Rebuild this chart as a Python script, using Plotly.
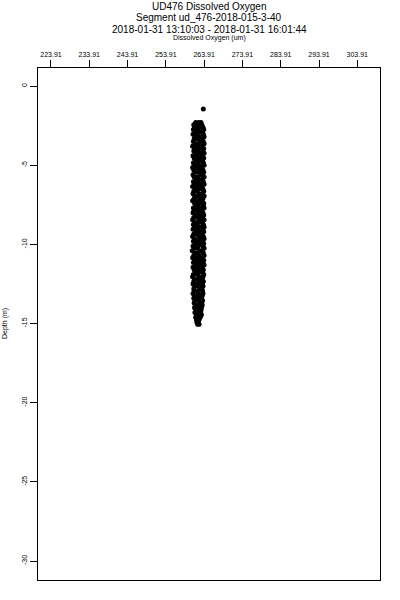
import plotly.graph_objects as go

# Depth levels (m) and dissolved oxygen readings (um)
depth_m = [
    -1.45,
    -2.30, -2.30, -2.30, -2.45, -2.45, -2.45, -2.60, -2.60, -2.60, -2.75, -2.75, -2.75,
    -2.90, -2.90, -2.90, -3.05, -3.05, -3.05, -3.20, -3.20, -3.20, -3.35, -3.35, -3.35,
    -3.50, -3.50, -3.50, -3.65, -3.65, -3.65, -3.80, -3.80, -3.80, -3.95, -3.95, -3.95,
    -4.10, -4.10, -4.10, -4.25, -4.25, -4.25, -4.40, -4.40, -4.40, -4.55, -4.55, -4.55,
    -4.70, -4.70, -4.70, -4.85, -4.85, -4.85, -5.00, -5.00, -5.00, -5.15, -5.15, -5.15,
    -5.30, -5.30, -5.30, -5.45, -5.45, -5.45, -5.60, -5.60, -5.60, -5.75, -5.75, -5.75,
    -5.90, -5.90, -5.90, -6.05, -6.05, -6.05, -6.20, -6.20, -6.20, -6.35, -6.35, -6.35,
    -6.50, -6.50, -6.50, -6.65, -6.65, -6.65, -6.80, -6.80, -6.80, -6.95, -6.95, -6.95,
    -7.10, -7.10, -7.10, -7.25, -7.25, -7.25, -7.40, -7.40, -7.40, -7.55, -7.55, -7.55,
    -7.70, -7.70, -7.70, -7.85, -7.85, -7.85, -8.00, -8.00, -8.00, -8.15, -8.15, -8.15,
    -8.30, -8.30, -8.30, -8.45, -8.45, -8.45, -8.60, -8.60, -8.60, -8.75, -8.75, -8.75,
    -8.90, -8.90, -8.90, -9.05, -9.05, -9.05, -9.20, -9.20, -9.20, -9.35, -9.35, -9.35,
    -9.50, -9.50, -9.50, -9.65, -9.65, -9.65, -9.80, -9.80, -9.80, -9.95, -9.95, -9.95,
    -10.10, -10.10, -10.10, -10.25, -10.25, -10.25, -10.40, -10.40, -10.40, -10.55, -10.55, -10.55,
    -10.70, -10.70, -10.70, -10.85, -10.85, -10.85, -11.00, -11.00, -11.00, -11.15, -11.15, -11.15,
    -11.30, -11.30, -11.30, -11.45, -11.45, -11.45, -11.60, -11.60, -11.60, -11.75, -11.75, -11.75,
    -11.90, -11.90, -11.90, -12.05, -12.05, -12.05, -12.20, -12.20, -12.20, -12.35, -12.35, -12.35,
    -12.50, -12.50, -12.50, -12.65, -12.65, -12.65, -12.80, -12.80, -12.80, -12.95, -12.95, -12.95,
    -13.10, -13.10, -13.10, -13.25, -13.25, -13.25, -13.40, -13.40, -13.40, -13.55, -13.55, -13.55,
    -13.70, -13.70, -13.70, -13.85, -13.85, -13.85, -14.00, -14.00, -14.00, -14.15, -14.15, -14.15,
    -14.30, -14.30, -14.30, -14.45, -14.45, -14.45, -14.60, -14.60, -14.60,
    -14.75, -14.75, -14.90, -14.90, -15.05, -15.05,
]
oxygen_um = [
    263.7,
    261.7, 262.5, 263.1, 261.2, 262.0, 263.3, 261.4, 262.7, 263.6, 261.1, 262.3, 263.8,
    261.8, 262.9, 263.5, 261.0, 262.1, 263.7, 261.5, 262.6, 263.9, 261.3, 262.2, 263.4,
    261.1, 262.8, 263.7, 261.6, 262.4, 263.9, 260.9, 262.0, 263.3, 261.4, 262.7, 263.8,
    261.2, 262.3, 263.6, 261.7, 262.9, 263.9, 261.0, 262.1, 263.4, 261.3, 262.5, 263.8,
    261.6, 262.8, 263.5, 261.1, 262.2, 263.7, 261.4, 262.6, 263.9, 260.9, 262.0, 263.2,
    261.2, 262.7, 263.6, 261.5, 262.4, 263.8, 261.0, 262.9, 263.5, 261.3, 262.1, 263.9,
    261.7, 262.6, 263.4, 261.1, 262.3, 263.7, 261.4, 262.8, 263.9, 260.9, 262.2, 263.3,
    261.6, 262.5, 263.6, 261.2, 262.0, 263.8, 261.0, 262.7, 263.5, 261.5, 262.4, 263.9,
    261.3, 262.9, 263.6, 260.9, 262.1, 263.4, 261.4, 262.6, 263.8, 261.7, 262.3, 263.7,
    261.1, 262.8, 263.9, 261.3, 262.0, 263.3, 261.0, 262.5, 263.6, 261.6, 262.9, 263.8,
    261.2, 262.2, 263.5, 260.9, 262.7, 263.9, 261.5, 262.4, 263.4, 261.1, 262.1, 263.7,
    261.4, 262.8, 263.9, 261.0, 262.3, 263.6, 261.7, 262.6, 263.8, 261.2, 262.0, 263.3,
    260.9, 262.5, 263.7, 261.4, 262.9, 263.9, 261.1, 262.2, 263.5, 261.6, 262.7, 263.8,
    261.0, 262.4, 263.6, 261.3, 262.1, 263.9, 260.8, 262.8, 263.4, 261.5, 262.3, 263.7,
    261.2, 262.6, 263.9, 260.9, 262.0, 263.5, 261.4, 262.7, 263.8, 261.1, 262.4, 263.6,
    261.6, 262.9, 263.9, 261.0, 262.2, 263.3, 261.3, 262.5, 263.7, 261.7, 262.8, 263.5,
    261.1, 262.1, 263.8, 260.9, 262.6, 263.6, 261.4, 262.3, 263.4, 261.2, 262.7, 263.7,
    261.0, 262.0, 263.5, 261.5, 262.5, 263.6, 261.2, 262.8, 263.3, 261.3, 262.2, 263.5,
    261.0, 262.4, 263.6, 261.4, 262.7, 263.4, 261.2, 262.1, 263.2, 261.5, 262.5, 263.5,
    261.3, 262.8, 263.3, 261.6, 262.3, 263.4, 261.4, 262.6, 263.2, 261.8, 262.4, 263.1,
    261.5, 262.2, 263.0, 261.9, 262.7, 263.2, 261.7, 262.4, 262.9,
    261.9, 262.6, 262.0, 262.4, 262.2, 262.6,
]

x_tick_values = [223.91, 233.91, 243.91, 253.91, 263.91, 273.91, 283.91, 293.91, 303.91]
y_tick_values = [0, -5, -10, -15, -20, -25, -30]

title_lines = [
    "UD476 Dissolved Oxygen",
    "Segment ud_476-2018-015-3-40",
    "2018-01-31 13:10:03 - 2018-01-31 16:01:44",
]
x_title = "Dissolved Oxygen (um)"
y_title = "Depth (m)"

FONT = "Liberation Sans, Arial, Helvetica, sans-serif"

fig = go.Figure()
fig.add_trace(go.Scatter(
    x=oxygen_um, y=depth_m, mode="markers",
    marker=dict(color="black", size=5, line=dict(width=0)),
    showlegend=False, hoverinfo="x+y",
))

fig.update_layout(
    width=400, height=600,
    margin=dict(l=38, r=20, t=68, b=20, pad=0),
    paper_bgcolor="white", plot_bgcolor="white",
    font=dict(family=FONT, color="black", size=7),
    xaxis=dict(
        side="top", range=[220.52, 309.84], tickvals=x_tick_values,
        ticktext=[f"{v:.2f}" for v in x_tick_values],
        ticks="outside", ticklen=7, tickwidth=1, tickcolor="black",
        showline=True, linecolor="black", linewidth=1, mirror=True,
        showgrid=False, zeroline=False, tickfont=dict(size=7, family=FONT),
    ),
    yaxis=dict(
        range=[-31.2, 1.14], tickvals=y_tick_values,
        ticktext=[str(v) for v in y_tick_values],
        ticks="outside", ticklen=7, tickwidth=1, tickcolor="black",
        showline=True, linecolor="black", linewidth=1, mirror=True,
        showgrid=False, zeroline=False, tickangle=-90,
        tickfont=dict(size=7, family=FONT),
    ),
)

title_y = [1.121, 1.0996, 1.076]
for txt, yy in zip(title_lines, title_y):
    fig.add_annotation(text=txt, x=0.5, y=yy, xref="paper", yref="paper",
                       showarrow=False, xanchor="center", yanchor="middle",
                       font=dict(size=10, family=FONT, color="black"))
fig.add_annotation(text=x_title, x=0.5, y=1.0586, xref="paper", yref="paper",
                   showarrow=False, xanchor="center", yanchor="middle",
                   font=dict(size=7, family=FONT, color="black"))
fig.add_annotation(text=y_title, x=-0.0965, y=0.502, xref="paper", yref="paper",
                   showarrow=False, xanchor="center", yanchor="middle", textangle=-90,
                   font=dict(size=7, family=FONT, color="black"))

fig.write_html(
    "out.html",
    config={"displayModeBar": False},
    post_script="document.body.style.margin='0';document.body.style.padding='0';",
)
